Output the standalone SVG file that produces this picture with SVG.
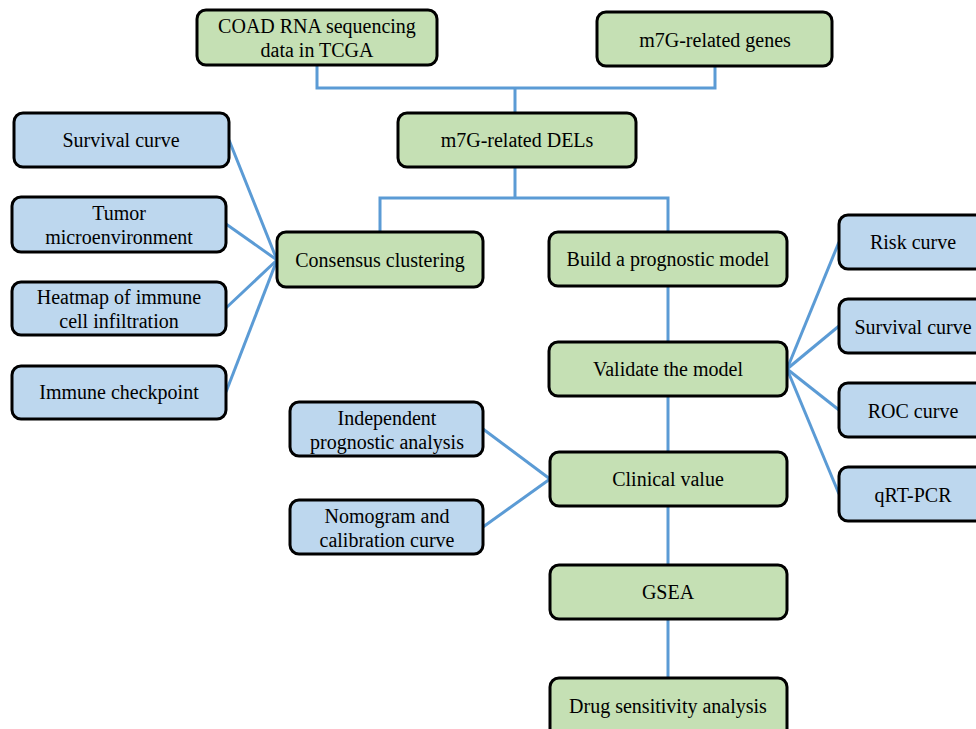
<svg xmlns="http://www.w3.org/2000/svg" width="976" height="729" viewBox="0 0 976 729">
<style>
.g{fill:#c5e0b4;stroke:#000;stroke-width:3}
.b{fill:#bdd7ee;stroke:#000;stroke-width:3}
.t{font-family:"Liberation Serif","Times New Roman",serif;font-size:20px;fill:#000;text-anchor:middle;dominant-baseline:central}
.c{fill:none;stroke:#5b9bd5;stroke-width:3}
</style>
<rect width="976" height="729" fill="#fff"/>
<g id="connectors">
<polyline class="c" points="317,65 317,88 715,88 715,66"/>
<line class="c" x1="515" y1="88" x2="515" y2="113"/>
<polyline class="c" points="380,232 380,198 668,198 668,232"/>
<line class="c" x1="515" y1="167" x2="515" y2="198"/>
<line class="c" x1="668" y1="286" x2="668" y2="342"/>
<line class="c" x1="668" y1="396" x2="668" y2="452"/>
<line class="c" x1="668" y1="506" x2="668" y2="565"/>
<line class="c" x1="668" y1="619" x2="668" y2="678"/>
<line class="c" x1="277" y1="260" x2="229" y2="140"/>
<line class="c" x1="277" y1="260" x2="226" y2="224"/>
<line class="c" x1="277" y1="260" x2="226" y2="308"/>
<line class="c" x1="277" y1="260" x2="226" y2="392"/>
<line class="c" x1="787" y1="369" x2="839" y2="242"/>
<line class="c" x1="787" y1="369" x2="839" y2="326"/>
<line class="c" x1="787" y1="369" x2="839" y2="410"/>
<line class="c" x1="787" y1="369" x2="839" y2="494"/>
<line class="c" x1="550" y1="479" x2="483" y2="429"/>
<line class="c" x1="550" y1="479" x2="483" y2="527"/>
</g>
<g id="coad"><rect class="g" x="197" y="10" width="240" height="55" rx="9"/><text class="t" x="317" y="26">COAD RNA sequencing</text><text class="t" x="317" y="50">data in TCGA</text></g>
<g id="genes"><rect class="g" x="597" y="12" width="235" height="54" rx="9"/><text class="t" x="715" y="40">m7G-related genes</text></g>
<g id="dels"><rect class="g" x="398" y="113" width="238" height="54" rx="9"/><text class="t" x="517" y="140">m7G-related DELs</text></g>
<g id="consensus"><rect class="g" x="277" y="232" width="206" height="55" rx="9"/><text class="t" x="380" y="260">Consensus clustering</text></g>
<g id="build"><rect class="g" x="549" y="232" width="238" height="54" rx="9"/><text class="t" x="668" y="259">Build a prognostic model</text></g>
<g id="validate"><rect class="g" x="549" y="342" width="238" height="54" rx="9"/><text class="t" x="668" y="369">Validate the model</text></g>
<g id="clinical"><rect class="g" x="550" y="452" width="237" height="54" rx="9"/><text class="t" x="668" y="479">Clinical value</text></g>
<g id="gsea"><rect class="g" x="550" y="565" width="237" height="54" rx="9"/><text class="t" x="668" y="592">GSEA</text></g>
<g id="drug"><rect class="g" x="550" y="678" width="237" height="60" rx="9"/><text class="t" x="668" y="706">Drug sensitivity analysis</text></g>
<g id="surv-left"><rect class="b" x="14" y="113" width="215" height="54" rx="9"/><text class="t" x="121" y="140">Survival curve</text></g>
<g id="tumor"><rect class="b" x="12" y="197" width="214" height="55" rx="9"/><text class="t" x="119" y="213">Tumor</text><text class="t" x="119" y="237">microenvironment</text></g>
<g id="heatmap"><rect class="b" x="12" y="282" width="214" height="53" rx="9"/><text class="t" x="119" y="297">Heatmap of immune</text><text class="t" x="119" y="321">cell infiltration</text></g>
<g id="checkpoint"><rect class="b" x="12" y="366" width="214" height="53" rx="9"/><text class="t" x="119" y="392">Immune checkpoint</text></g>
<g id="independent"><rect class="b" x="290" y="402" width="193" height="54" rx="9"/><text class="t" x="387" y="418">Independent</text><text class="t" x="387" y="442">prognostic analysis</text></g>
<g id="nomogram"><rect class="b" x="290" y="500" width="193" height="54" rx="9"/><text class="t" x="387" y="516">Nomogram and</text><text class="t" x="387" y="540">calibration curve</text></g>
<g id="risk"><rect class="b" x="839" y="215" width="150" height="54" rx="9"/><text class="t" x="913" y="242">Risk curve</text></g>
<g id="surv-right"><rect class="b" x="839" y="299" width="150" height="54" rx="9"/><text class="t" x="913" y="327">Survival curve</text></g>
<g id="roc"><rect class="b" x="839" y="383" width="150" height="54" rx="9"/><text class="t" x="913" y="411">ROC curve</text></g>
<g id="qrt"><rect class="b" x="839" y="467" width="150" height="54" rx="9"/><text class="t" x="913" y="495">qRT-PCR</text></g>
</svg>
